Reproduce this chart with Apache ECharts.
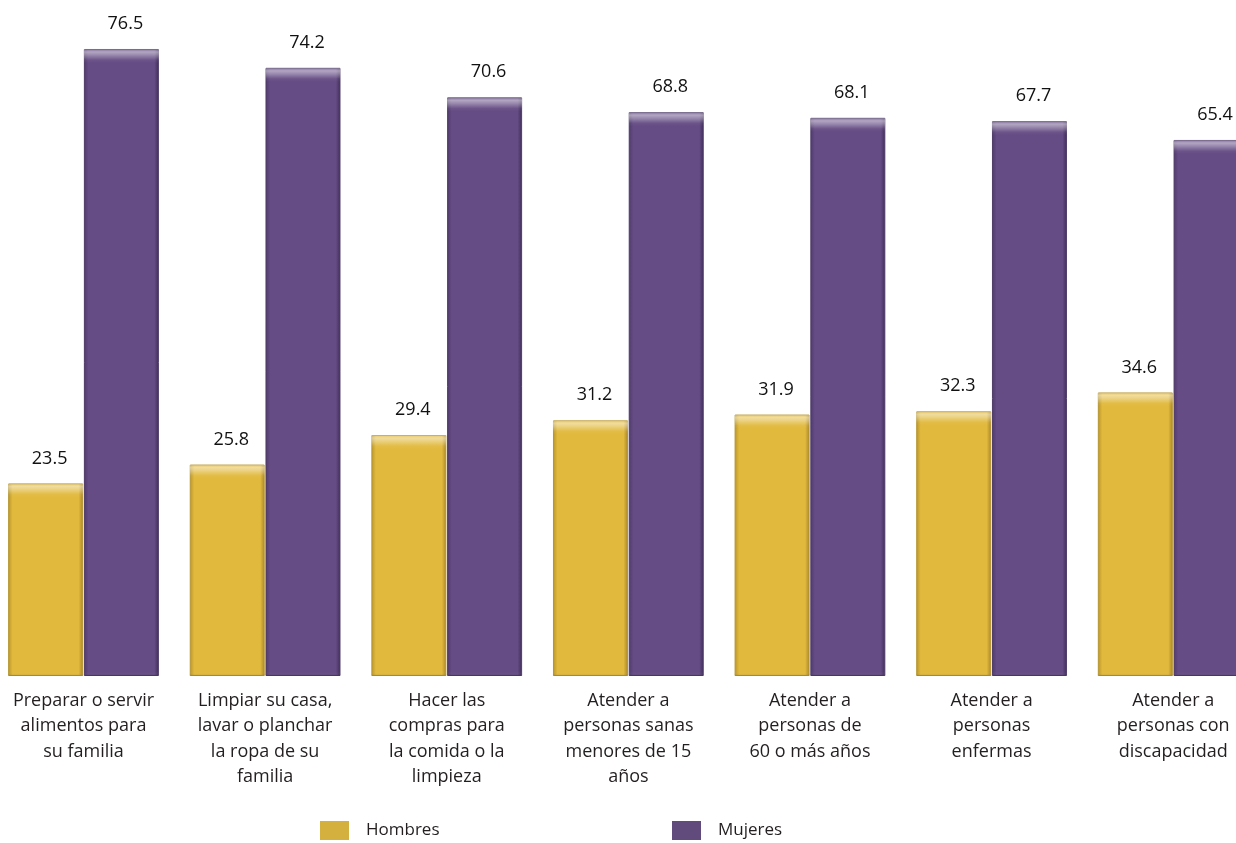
<!DOCTYPE html>
<html><head><meta charset="utf-8">
<script src="https://cdn.jsdelivr.net/npm/echarts@6/dist/echarts.min.js"></script>
<style>html,body{margin:0;padding:0;background:#fff}#c{width:1236px;height:843px}</style>
</head><body><div id="c"></div>
<script>
var categories = [
  'Preparar o servir\nalimentos para\nsu familia',
  'Limpiar su casa,\nlavar o planchar\nla ropa de su\nfamilia',
  'Hacer las\ncompras para\nla comida o la\nlimpieza',
  'Atender a\npersonas sanas\nmenores de 15\naños',
  'Atender a\npersonas de\n60 o más años',
  'Atender a\npersonas\nenfermas',
  'Atender a\npersonas con\ndiscapacidad'
];
var hombres = [23.5, 25.8, 29.4, 31.2, 31.9, 32.3, 34.6];
var mujeres = [76.5, 74.2, 70.6, 68.8, 68.1, 67.7, 65.4];
var seriesNames = ['Hombres', 'Mujeres'];

var yMax = 80, gridTop = 20.3, gridBottom = 167;
var pxPerUnit = (843 - gridTop - gridBottom) / yMax;

function bodyGrad(c1, c2, c3) {
  return new echarts.graphic.LinearGradient(0, 0, 1, 0, [
    {offset: 0, color: c1}, {offset: 0.06, color: c2}, {offset: 0.94, color: c2}, {offset: 1, color: c3}
  ]);
}
function highlight(v) {
  var h = v * pxPerUnit;
  return new echarts.graphic.LinearGradient(0, 0, 0, 1, [
    {offset: 0, color: 'rgba(255,255,255,0.2)'},
    {offset: 3 / h, color: 'rgba(255,255,255,0.5)'},
    {offset: 6 / h, color: 'rgba(255,255,255,0.35)'},
    {offset: 11 / h, color: 'rgba(255,255,255,0.05)'},
    {offset: 14 / h, color: 'rgba(255,255,255,0)'},
    {offset: 1 - 4 / h, color: 'rgba(255,255,255,0)'},
    {offset: 1, color: 'rgba(0,0,0,0.12)'}
  ]);
}
function overlayData(arr) {
  return arr.map(function (v) { return {value: v, itemStyle: {color: highlight(v)}}; });
}

var xAx = {
  type: 'category', data: categories,
  axisLine: {show: false}, axisTick: {show: false},
  axisLabel: {interval: 0, margin: 12, fontFamily: 'Open Sans', fontSize: 18, lineHeight: 25.5, color: '#231f20'}
};
var xAx2 = {type: 'category', data: categories, show: false};

var labelCfg = {show: true, position: 'top', distance: 16, offset: [4, 0], fontFamily: 'Open Sans', fontSize: 18, color: '#111'};

var legendText = {fontFamily: 'Open Sans', fontSize: 17, color: '#231f20', padding: [2, 0, 0, 12]};
var legendItem = {borderWidth: 0};

var option = {
  animation: false,
  grid: {left: -7.3, width: 1271.3, top: gridTop, bottom: gridBottom, outerBoundsMode: 'none', containLabel: false},
  xAxis: [xAx, xAx2],
  yAxis: {type: 'value', min: 0, max: yMax, show: false},
  legend: [
    {data: [{name: 'Hombres', icon: 'rect', itemStyle: {color: '#D4B03E', borderWidth: 0}}], left: 320, top: 821, padding: 0, itemWidth: 29, itemHeight: 19, itemStyle: legendItem, textStyle: legendText},
    {data: [{name: 'Mujeres', icon: 'rect', itemStyle: {color: '#614A7C', borderWidth: 0}}], left: 672, top: 821, padding: 0, itemWidth: 29, itemHeight: 19, itemStyle: legendItem, textStyle: legendText}
  ],
  series: [
    {name: seriesNames[0], type: 'bar', data: hombres, barWidth: 75, barGap: '1%', xAxisIndex: 0,
     color: '#D4B03E',
     itemStyle: {color: bodyGrad('#b8952a', '#e1b93d', '#a8862a'), borderColor: '#b69632', borderWidth: 1},
     label: labelCfg},
    {name: seriesNames[1], type: 'bar', data: mujeres, barWidth: 75, barGap: '1%', xAxisIndex: 0,
     color: '#614A7C',
     itemStyle: {color: bodyGrad('#4f3a6b', '#654c84', '#3f2d57'), borderColor: '#4e3a68', borderWidth: 1},
     label: labelCfg},
    {name: 'hl1', type: 'bar', data: overlayData(hombres), barWidth: 75, barGap: '1%', xAxisIndex: 1, silent: true},
    {name: 'hl2', type: 'bar', data: overlayData(mujeres), barWidth: 75, barGap: '1%', xAxisIndex: 1, silent: true}
  ]
};
var chart = echarts.init(document.getElementById('c'));
chart.setOption(option);
</script></body></html>
